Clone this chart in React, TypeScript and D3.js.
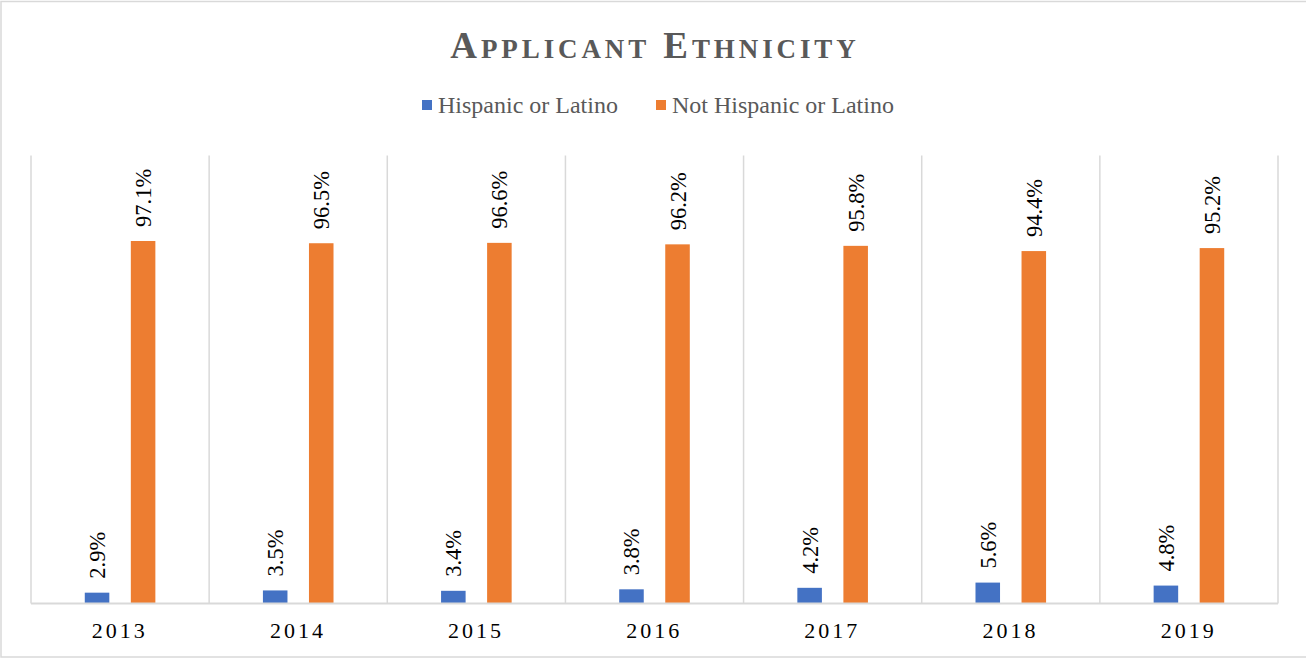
import React from "react";
import * as d3 from "d3";

const years = ["2013", "2014", "2015", "2016", "2017", "2018", "2019"];
const seriesNames = ["Hispanic or Latino", "Not Hispanic or Latino"];
const hispanic = [2.9, 3.5, 3.4, 3.8, 4.2, 5.6, 4.8];
const notHispanic = [97.1, 96.5, 96.6, 96.2, 95.8, 94.4, 95.2];
const colors = ["#4472C4", "#ED7D31"];

const W = 1306;
const H = 658;
const plotLeft = 31;
const plotRight = 1278;
const plotTop = 155.5;
const plotBottom = 603.5;

export default function App() {
  const x = d3.scaleBand<string>().domain(years).range([plotLeft, plotRight]).paddingInner(0).paddingOuter(0);
  const xi = d3
    .scaleBand<string>()
    .domain(["0", "1"])
    .range([0, x.bandwidth()])
    .paddingInner(0.467)
    .paddingOuter(1.168);
  const y = d3.scaleLinear().domain([0, 120]).range([plotBottom, plotTop]);
  const series = [hispanic, notHispanic];
  const boundaries = years.map((yr) => x(yr) as number).concat([plotRight]);
  const font = "'Liberation Serif', 'Times New Roman', serif";

  return (
    <div style={{ position: "absolute", left: 0, top: 0 }}>
      <svg width={W} height={H} style={{ display: "block" }}>
        <rect x={0} y={0} width={W} height={H} fill="#fff" />
        <rect x={1} y={1.5} width={W + 5} height={H - 2.5} fill="none" stroke="#D9D9D9" strokeWidth={1.5} />
        {/* title */}
        <text
          x={W / 2 + 2}
          y={57.5}
          textAnchor="middle"
          fill="#595959"
          fontFamily={font}
          fontWeight="bold"
          letterSpacing={3.9}
        >
          <tspan fontSize={37}>A</tspan>
          <tspan fontSize={27}>PPLICANT</tspan>
          <tspan fontSize={37}> E</tspan>
          <tspan fontSize={27}>THNICITY</tspan>
        </text>
        {/* legend */}
        {[
          { x: 422, tx: 438 },
          { x: 656, tx: 672 },
        ].map((l, i) => (
          <g key={i}>
            <rect x={l.x} y={100} width={10} height={10} fill={colors[i]} />
            <text x={l.tx} y={112.5} fontSize={24} fill="#595959" fontFamily={font}>
              {seriesNames[i]}
            </text>
          </g>
        ))}
        {/* gridlines */}
        {boundaries.map((bx, i) => (
          <line key={i} x1={bx} x2={bx} y1={plotTop} y2={plotBottom} stroke="#D9D9D9" strokeWidth={1.5} />
        ))}
        {/* bars */}
        {years.map((yr) => {
          const bx = x(yr) as number;
          return (
            <g key={yr}>
              {series.map((vals, si) => {
                const v = vals[years.indexOf(yr)];
                const left = bx + (xi(String(si)) as number);
                const cx = left + xi.bandwidth() / 2;
                const top = y(v);
                return (
                  <g key={si}>
                    <rect x={left} y={top} width={xi.bandwidth()} height={plotBottom - top} fill={colors[si]} />
                    <text
                      transform={`translate(${cx + 8},${top - 14}) rotate(-90)`}
                      fontSize={22.5}
                      fill="#000"
                      fontFamily={font}
                    >
                      {v.toFixed(1) + "%"}
                    </text>
                  </g>
                );
              })}
              <text
                x={bx + x.bandwidth() / 2 - 0.3}
                y={637.5}
                textAnchor="middle"
                fontSize={22}
                letterSpacing={3}
                fill="#000"
                fontFamily={font}
              >
                {yr}
              </text>
            </g>
          );
        })}
        <line x1={plotLeft} x2={plotRight} y1={plotBottom} y2={plotBottom} stroke="#D9D9D9" strokeWidth={2} />
      </svg>
    </div>
  );
}
